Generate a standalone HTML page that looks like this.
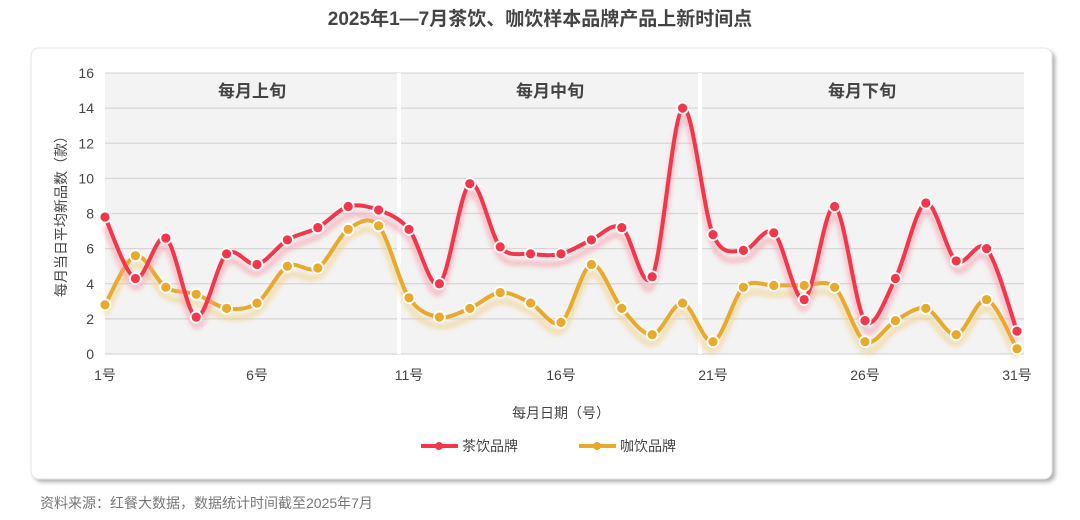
<!DOCTYPE html><html><head><meta charset="utf-8"><style>
body{margin:0;width:1080px;height:520px;background:#fff;font-family:"Liberation Sans","Noto Sans CJK SC",sans-serif;overflow:hidden}
</style></head><body>
<svg id="s" width="1080" height="520" xmlns="http://www.w3.org/2000/svg" style="position:absolute;left:0;top:0;font-family:'Liberation Sans','Noto Sans CJK SC',sans-serif">
<defs><filter id="b" x="-10%" y="-10%" width="120%" height="130%"><feGaussianBlur stdDeviation="2.5"/></filter>
<filter id="cs"><feGaussianBlur stdDeviation="2"/></filter></defs>
<text x="540" y="25" text-anchor="middle" font-size="19" font-weight="bold" fill="#444">2025年1—7月茶饮、咖饮样本品牌产品上新时间点</text>
<rect x="34" y="51" width="1021" height="431" rx="8" fill="#aaa" filter="url(#cs)"/>
<rect x="31" y="48" width="1021" height="431" rx="8" fill="#fff" stroke="#e6e6e6"/>
<rect x="105" y="73" width="919" height="281" fill="#f3f3f3"/>
<g id="grid"></g>
<rect x="397" y="73" width="4" height="281" fill="#fff"/>
<rect x="698" y="73" width="4" height="281" fill="#fff"/>
<g font-size="17" font-weight="bold" fill="#444" text-anchor="middle">
<text x="252" y="97">每月上旬</text><text x="550" y="97">每月中旬</text><text x="862" y="97">每月下旬</text></g>
<g id="yl" font-size="14" fill="#444" text-anchor="end"></g>
<g font-size="14" fill="#444" text-anchor="middle">
<text x="105" y="380">1号</text><text x="257" y="380">6号</text><text x="409" y="380">11号</text><text x="561" y="380">16号</text><text x="713" y="380">21号</text><text x="865" y="380">26号</text><text x="1017" y="380">31号</text></g>
<text x="561" y="418" text-anchor="middle" font-size="14" fill="#444">每月日期（号）</text>
<text transform="translate(66,213) rotate(-90)" text-anchor="middle" font-size="14" fill="#444">每月当日平均新品数（款）</text>
<g id="series"></g>
<g font-size="14" fill="#444">
<line x1="421" y1="446" x2="458" y2="446" stroke="#f5364a" stroke-width="4"/><circle cx="439" cy="446" r="4" fill="#f5364a"/>
<text x="462" y="451">茶饮品牌</text>
<line x1="579" y1="446" x2="616" y2="446" stroke="#e9a92b" stroke-width="4"/><circle cx="597" cy="446" r="4" fill="#e9a92b"/>
<text x="620" y="451">咖饮品牌</text></g>
<text x="40" y="508" font-size="14" fill="#777">资料来源：红餐大数据，数据统计时间截至2025年7月</text>
</svg>
<script>
var ns="http://www.w3.org/2000/svg";
function X(i){return 105+i*30.4}function Y(v){return 354-v*17.56}
var g=document.getElementById('grid'),yl=document.getElementById('yl');
for(var v=0;v<=16;v+=2){var l=document.createElementNS(ns,'line');l.setAttribute('x1',105);l.setAttribute('x2',1024);l.setAttribute('y1',Y(v));l.setAttribute('y2',Y(v));l.setAttribute('stroke','#d6d6d6');l.setAttribute('stroke-width','1.2');g.appendChild(l);
var t=document.createElementNS(ns,'text');t.setAttribute('x',94);t.setAttribute('y',Y(v)+5);t.textContent=v;yl.appendChild(t);}
var tea=[7.8,4.3,6.6,2.1,5.7,5.1,6.5,7.2,8.4,8.2,7.1,4.0,9.7,6.1,5.7,5.7,6.5,7.2,4.4,14.0,6.8,5.9,6.9,3.1,8.4,1.9,4.3,8.6,5.3,6.0,1.3];
var cof=[2.8,5.6,3.8,3.4,2.6,2.9,5.0,4.9,7.1,7.3,3.2,2.1,2.6,3.5,2.9,1.8,5.1,2.6,1.1,2.9,0.7,3.8,3.9,3.9,3.8,0.7,1.9,2.6,1.1,3.1,0.3];
function path(d,dy){var p=d.map(function(v,i){return[X(i),Y(v)+dy]});var s='M'+p[0][0]+','+p[0][1];
for(var i=0;i<p.length-1;i++){var p0=p[i-1]||p[i],p1=p[i],p2=p[i+1],p3=p[i+2]||p2,k=0.16;
s+=' C'+(p1[0]+(p2[0]-p0[0])*k)+','+(p1[1]+(p2[1]-p0[1])*k)+' '+(p2[0]-(p3[0]-p1[0])*k)+','+(p2[1]-(p3[1]-p1[1])*k)+' '+p2[0]+','+p2[1];}return s}
var S=document.getElementById('series');
function draw(d,c,sh){var a=document.createElementNS(ns,'path');a.setAttribute('d',path(d,9));a.setAttribute('fill','none');a.setAttribute('stroke',sh);a.setAttribute('stroke-width',6);a.setAttribute('filter','url(#b)');a.setAttribute('opacity','0.6');S.appendChild(a);
var b=document.createElementNS(ns,'path');b.setAttribute('d',path(d,0));b.setAttribute('fill','none');b.setAttribute('stroke',c);b.setAttribute('stroke-width',4);S.appendChild(b);}
function dots(d,c){d.forEach(function(v,i){var e=document.createElementNS(ns,'circle');e.setAttribute('cx',X(i));e.setAttribute('cy',Y(v));e.setAttribute('r',5.5);e.setAttribute('fill',c);e.setAttribute('stroke','#fff');e.setAttribute('stroke-width',1.8);S.appendChild(e);})}
draw(cof,'#e9a92b','#f0d08a');draw(tea,'#f5364a','#f5a0aa');dots(cof,'#e9a92b');dots(tea,'#f5364a');
</script>
</body></html>
